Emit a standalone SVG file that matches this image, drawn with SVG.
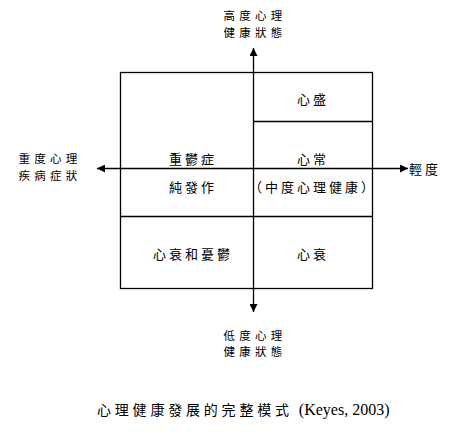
<svg xmlns="http://www.w3.org/2000/svg" width="460" height="436" viewBox="0 0 460 436">
<style>
.t{font-family:"Noto Sans CJK TC","Noto Sans CJK SC",sans-serif;font-size:13px;fill:#000;text-anchor:middle;letter-spacing:3px}
.t2{font-family:"Noto Sans CJK TC","Noto Sans CJK SC",sans-serif;font-size:11.5px;fill:#000;text-anchor:middle;letter-spacing:4.3px}
.ln{stroke:#000;stroke-width:1.3;fill:none}
.cap{font-family:"Liberation Serif",serif;font-size:16px;fill:#000}
</style>
<defs>
<marker id="ah" viewBox="0 0 10 10" refX="10" refY="5" markerWidth="8" markerHeight="8" markerUnits="userSpaceOnUse" orient="auto">
<path d="M0,0 L10,5 L0,10 Z" fill="#000"/>
</marker>
</defs>
<rect width="460" height="436" fill="#fff"/>
<g id="box">
<rect class="ln" x="120.5" y="72.5" width="252" height="216"/>
<line class="ln" x1="253" y1="121.5" x2="372.5" y2="121.5"/>
<line class="ln" x1="120.5" y1="216.5" x2="372.5" y2="216.5"/>
</g>
<g id="connectors">
<line class="ln" x1="253.5" y1="168" x2="253.5" y2="48" marker-end="url(#ah)"/>
<line class="ln" x1="253.5" y1="168" x2="253.5" y2="312" marker-end="url(#ah)"/>
<line class="ln" x1="253.5" y1="168.5" x2="97" y2="168.5" marker-end="url(#ah)"/>
<line class="ln" x1="253.5" y1="168.5" x2="408" y2="168.5" marker-end="url(#ah)"/>
</g>
<g id="top-label"><text class="t2" x="255" y="20">高度心理</text><text class="t2" x="255" y="37">健康狀態</text></g>
<g id="bottom-label"><text class="t2" x="255" y="340">低度心理</text><text class="t2" x="255" y="356">健康狀態</text></g>
<g id="left-label"><text class="t2" x="50" y="163">重度心理</text><text class="t2" x="50" y="180">疾病症狀</text></g>
<g id="right-label"><text class="t" x="425" y="174">輕度</text></g>
<g id="q-flourish"><text class="t" x="313" y="104">心盛</text></g>
<g id="q-moderate"><text class="t" x="313" y="164">心常</text><text class="t" x="313" y="192">（中度心理健康）</text></g>
<g id="q-depression"><text class="t" x="193" y="164">重鬱症</text><text class="t" x="193" y="192">純發作</text></g>
<g id="q-languish-dep"><text class="t" x="193" y="259">心衰和憂鬱</text></g>
<g id="q-languish"><text class="t" x="313" y="259">心衰</text></g>
<g id="caption"><text x="97" y="415"><tspan class="t" style="text-anchor:start;font-size:14px;letter-spacing:3.8px">心理健康發展的完整模式</tspan><tspan class="cap" dx="6">(Keyes, 2003)</tspan></text></g>
</svg>
